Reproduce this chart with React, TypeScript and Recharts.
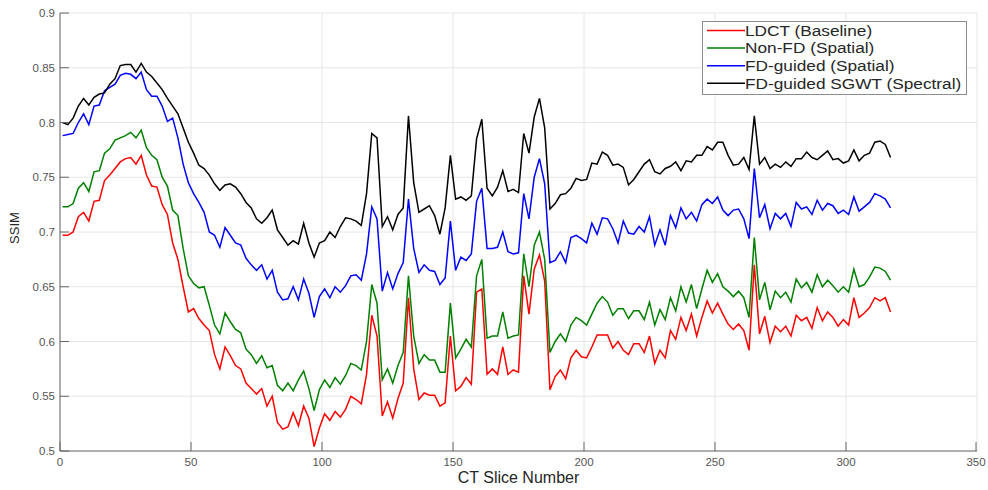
import { LineChart, Line, XAxis, YAxis, CartesianGrid, Legend } from "recharts";

// slice numbers sampled every second slice
const slices = Array.from({ length: 159 }, (_, i) => 1 + 2 * i);

const xTicks = [0, 50, 100, 150, 200, 250, 300, 350];
const yTicks = [0.5, 0.55, 0.6, 0.65, 0.7, 0.75, 0.8, 0.85, 0.9];

const seriesKeys = ["ldct", "nonFd", "fdSpatial", "fdSgwt"];
const seriesNames = ["LDCT (Baseline)", "Non-FD (Spatial)", "FD-guided (Spatial)", "FD-guided SGWT (Spectral)"];
const seriesColors = ["#ff0000", "#008000", "#0000ff", "#000000"];

const ldct = [
  0.697, 0.697, 0.7, 0.714, 0.718, 0.71, 0.728, 0.729, 0.747, 0.752,
  0.758, 0.764, 0.767, 0.768, 0.762, 0.77, 0.752, 0.742, 0.741, 0.725,
  0.716, 0.69, 0.675, 0.65, 0.627, 0.63, 0.621, 0.615, 0.61, 0.588,
  0.575, 0.595, 0.587, 0.578, 0.575, 0.562, 0.557, 0.552, 0.557, 0.541,
  0.55, 0.526, 0.52, 0.522, 0.535, 0.523, 0.541, 0.53, 0.504, 0.521,
  0.534, 0.528, 0.536, 0.531, 0.538, 0.55, 0.547, 0.543, 0.57, 0.624,
  0.605, 0.532, 0.545, 0.53, 0.548, 0.562, 0.64, 0.575, 0.547, 0.553,
  0.551, 0.551, 0.541, 0.544, 0.605, 0.555, 0.559, 0.567, 0.561, 0.645,
  0.648, 0.57, 0.575, 0.57, 0.595, 0.57, 0.574, 0.572, 0.66, 0.625,
  0.666, 0.679, 0.655, 0.556, 0.568, 0.574, 0.566, 0.585, 0.592, 0.586,
  0.585, 0.595, 0.606, 0.606, 0.606, 0.594, 0.6, 0.592, 0.588, 0.598,
  0.598, 0.59, 0.605, 0.58, 0.592, 0.585, 0.61, 0.602, 0.622, 0.61,
  0.625, 0.605, 0.622, 0.637, 0.626, 0.635, 0.625, 0.616, 0.611, 0.616,
  0.61, 0.592, 0.67, 0.607, 0.623, 0.599, 0.614, 0.609, 0.614, 0.605,
  0.624, 0.619, 0.622, 0.612, 0.631, 0.619, 0.627, 0.622, 0.614, 0.62,
  0.615, 0.64, 0.622, 0.626, 0.631, 0.64, 0.637, 0.64, 0.627,
];

const nonFd = [
  0.723, 0.723, 0.726, 0.74, 0.745, 0.737, 0.755, 0.756, 0.772, 0.776,
  0.784, 0.786, 0.788, 0.791, 0.786, 0.793, 0.777, 0.77, 0.766, 0.75,
  0.742, 0.72, 0.715, 0.685, 0.66, 0.653, 0.649, 0.65, 0.633, 0.615,
  0.607, 0.626, 0.618, 0.611, 0.608, 0.593, 0.588, 0.58, 0.587, 0.576,
  0.578, 0.56, 0.555, 0.562, 0.555, 0.565, 0.573, 0.557, 0.537, 0.556,
  0.565, 0.558, 0.567, 0.561, 0.569, 0.58, 0.578, 0.574, 0.6, 0.652,
  0.635, 0.565, 0.575, 0.562, 0.578, 0.59, 0.66, 0.605, 0.58, 0.588,
  0.583, 0.583, 0.572, 0.572, 0.635, 0.585, 0.593, 0.602, 0.595, 0.66,
  0.675, 0.603, 0.605, 0.605, 0.627, 0.603, 0.605, 0.606, 0.68, 0.65,
  0.688, 0.7, 0.675, 0.59, 0.6, 0.607, 0.6, 0.615, 0.622, 0.619,
  0.615, 0.625, 0.635, 0.641, 0.636, 0.624, 0.63, 0.63, 0.621, 0.628,
  0.628, 0.62, 0.636, 0.615, 0.629, 0.62, 0.64, 0.628, 0.65, 0.636,
  0.652, 0.63, 0.648, 0.665, 0.654, 0.662, 0.65, 0.646, 0.641, 0.646,
  0.64, 0.622, 0.695, 0.638, 0.654, 0.629, 0.646, 0.64, 0.645, 0.636,
  0.657, 0.649, 0.654, 0.645, 0.661, 0.65, 0.656, 0.651, 0.645, 0.65,
  0.645, 0.666, 0.65, 0.652, 0.659, 0.668, 0.667, 0.664, 0.656,
];

const fdSpatial = [
  0.788, 0.789, 0.79, 0.8, 0.808, 0.798, 0.815, 0.816, 0.829, 0.832,
  0.835, 0.843, 0.845, 0.844, 0.84, 0.846, 0.83, 0.824, 0.824, 0.815,
  0.801, 0.804, 0.786, 0.762, 0.745, 0.735, 0.727, 0.718, 0.7, 0.697,
  0.686, 0.704, 0.697, 0.69, 0.688, 0.676, 0.67, 0.665, 0.67, 0.657,
  0.665, 0.645, 0.638, 0.639, 0.65, 0.638, 0.657, 0.644, 0.622, 0.641,
  0.648, 0.64, 0.65, 0.645, 0.651, 0.66, 0.661, 0.656, 0.68, 0.723,
  0.712, 0.646, 0.663, 0.648, 0.662, 0.672, 0.73, 0.685, 0.663, 0.67,
  0.665, 0.664, 0.652, 0.658, 0.71, 0.665, 0.677, 0.674, 0.68, 0.728,
  0.74, 0.685, 0.685, 0.686, 0.7, 0.682, 0.68, 0.681, 0.735, 0.712,
  0.75, 0.767, 0.744, 0.672, 0.674, 0.682, 0.672, 0.695, 0.697, 0.694,
  0.69, 0.708, 0.698, 0.713, 0.712, 0.703, 0.69, 0.71, 0.699, 0.698,
  0.705, 0.7, 0.714, 0.688, 0.702, 0.688, 0.715, 0.704, 0.722, 0.712,
  0.718, 0.71, 0.725, 0.73, 0.726, 0.732, 0.72, 0.715, 0.72, 0.721,
  0.712, 0.694, 0.758, 0.713, 0.725, 0.703, 0.717, 0.712, 0.717, 0.705,
  0.727, 0.721, 0.723, 0.716, 0.729, 0.72, 0.726, 0.724, 0.717, 0.72,
  0.716, 0.732, 0.719, 0.723, 0.727, 0.735, 0.733, 0.73, 0.722,
];

const fdSgwt = [
  0.8, 0.798, 0.804, 0.815, 0.822, 0.816, 0.823, 0.826, 0.827, 0.835,
  0.84, 0.852, 0.853, 0.853, 0.846, 0.854, 0.846, 0.842, 0.836, 0.83,
  0.822, 0.815, 0.808, 0.795, 0.782, 0.772, 0.761, 0.758, 0.752, 0.744,
  0.738, 0.743, 0.744, 0.741, 0.735, 0.727, 0.722, 0.712, 0.708, 0.713,
  0.72, 0.702, 0.695, 0.688, 0.692, 0.689, 0.708, 0.69, 0.677, 0.69,
  0.692, 0.7, 0.695, 0.705, 0.713, 0.712, 0.71, 0.706, 0.735, 0.79,
  0.786, 0.705, 0.714, 0.702, 0.716, 0.722, 0.806, 0.745, 0.718, 0.721,
  0.724, 0.715, 0.698, 0.722, 0.77, 0.73, 0.732, 0.729, 0.733, 0.785,
  0.803, 0.74, 0.733, 0.741, 0.756, 0.737, 0.739, 0.736, 0.79, 0.772,
  0.805, 0.822, 0.795, 0.721, 0.726, 0.734, 0.735, 0.74, 0.749, 0.747,
  0.748, 0.763, 0.762, 0.773, 0.77, 0.761, 0.762, 0.759, 0.743, 0.748,
  0.755, 0.762, 0.766, 0.755, 0.753, 0.758, 0.76, 0.764, 0.756, 0.765,
  0.764, 0.77, 0.77, 0.778, 0.775, 0.782, 0.782, 0.77, 0.761, 0.762,
  0.768, 0.757, 0.806, 0.762, 0.768, 0.758, 0.762, 0.759, 0.764, 0.76,
  0.767, 0.767, 0.773, 0.768, 0.766, 0.77, 0.774, 0.766, 0.767, 0.763,
  0.765, 0.775, 0.765, 0.77, 0.772, 0.782, 0.783, 0.78, 0.768,
];

const data = slices.map((slice, i) => ({
  slice,
  ldct: ldct[i],
  nonFd: nonFd[i],
  fdSpatial: fdSpatial[i],
  fdSgwt: fdSgwt[i],
}));

const FONT = "'Liberation Sans', Arial, Helvetica, sans-serif";
const AXIS = "#666666";

function XTick({ x, y, payload }: any) {
  return (
    <g>
      <line x1={x} y1={y} x2={x} y2={y - 9} stroke={AXIS} />
      <text x={x} y={y + 15} textAnchor="middle" fontSize={11.5} fill="#555" style={{ fontFamily: FONT }}>
        {payload.value}
      </text>
    </g>
  );
}

function YTick({ x, y, payload }: any) {
  return (
    <g>
      <line x1={x} y1={y} x2={x + 9} y2={y} stroke={AXIS} />
      <text x={x - 5} y={y} dy={4} textAnchor="end" fontSize={11.5} fill="#555" style={{ fontFamily: FONT }}>
        {payload.value}
      </text>
    </g>
  );
}

function YLabel({ viewBox }: any) {
  const cx = 14;
  const cy = viewBox.y + viewBox.height / 2 - 4;
  return (
    <text
      x={cx}
      y={cy}
      transform={`rotate(-90 ${cx} ${cy})`}
      textAnchor="middle"
      dominantBaseline="central"
      fontSize={13}
      fill="#262626"
      style={{ fontFamily: FONT }}
    >
      SSIM
    </text>
  );
}

// legend box drawn in the MATLAB order, not the sorted payload order
function LegendBox() {
  const rowH = 17.6;
  return (
    <svg width={265} height={74} style={{ display: "block" }}>
      <rect x={0.5} y={0.5} width={264} height={73} fill="#fff" stroke="#8c8c8c" />
      {seriesNames.map((name, i) => {
        const cy = 9.5 + i * rowH;
        return (
          <g key={name}>
            <line x1={5} x2={43} y1={cy} y2={cy} stroke={seriesColors[i]} strokeWidth={1.5} />
            <text
              x={0}
              y={cy}
              dy={5.3}
              fontSize={15}
              fill="#262626"
              transform={`translate(43 0) scale(1.15 1)`}
              style={{ fontFamily: FONT }}
            >
              {name}
            </text>
          </g>
        );
      })}
    </svg>
  );
}

export default function App() {
  return (
    <div style={{ position: "absolute", left: 0, top: 0, width: 988, height: 490, background: "#fff", fontFamily: FONT }}>
      <LineChart width={988} height={490} data={data} margin={{ top: 13, right: 11, left: 0, bottom: 0 }}>
        <CartesianGrid stroke="#e6e6e6" />
        <XAxis
          dataKey="slice"
          type="number"
          domain={[0, 350]}
          ticks={xTicks}
          height={39}
          tickSize={0}
          tickMargin={0}
          tickLine={false}
          tick={<XTick />}
          axisLine={{ stroke: AXIS }}
          label={{ value: "CT Slice Number", position: "insideBottom", offset: 7, fontSize: 16, fill: "#262626" }}
        />
        <YAxis
          type="number"
          domain={[0.5, 0.9]}
          ticks={yTicks}
          width={60}
          tickSize={0}
          tickMargin={0}
          tickLine={false}
          tick={<YTick />}
          axisLine={{ stroke: AXIS }}
          label={{ content: <YLabel /> }}
        />
        <Legend
          layout="vertical"
          align="center"
          verticalAlign="middle"
          wrapperStyle={{ left: 702, top: 21, width: 265 }}
          content={<LegendBox />}
        />
        {seriesKeys.map((key, i) => (
          <Line
            key={key}
            name={seriesNames[i]}
            dataKey={key}
            stroke={seriesColors[i]}
            strokeWidth={1.5}
            dot={false}
            isAnimationActive={false}
          />
        ))}
      </LineChart>
    </div>
  );
}
